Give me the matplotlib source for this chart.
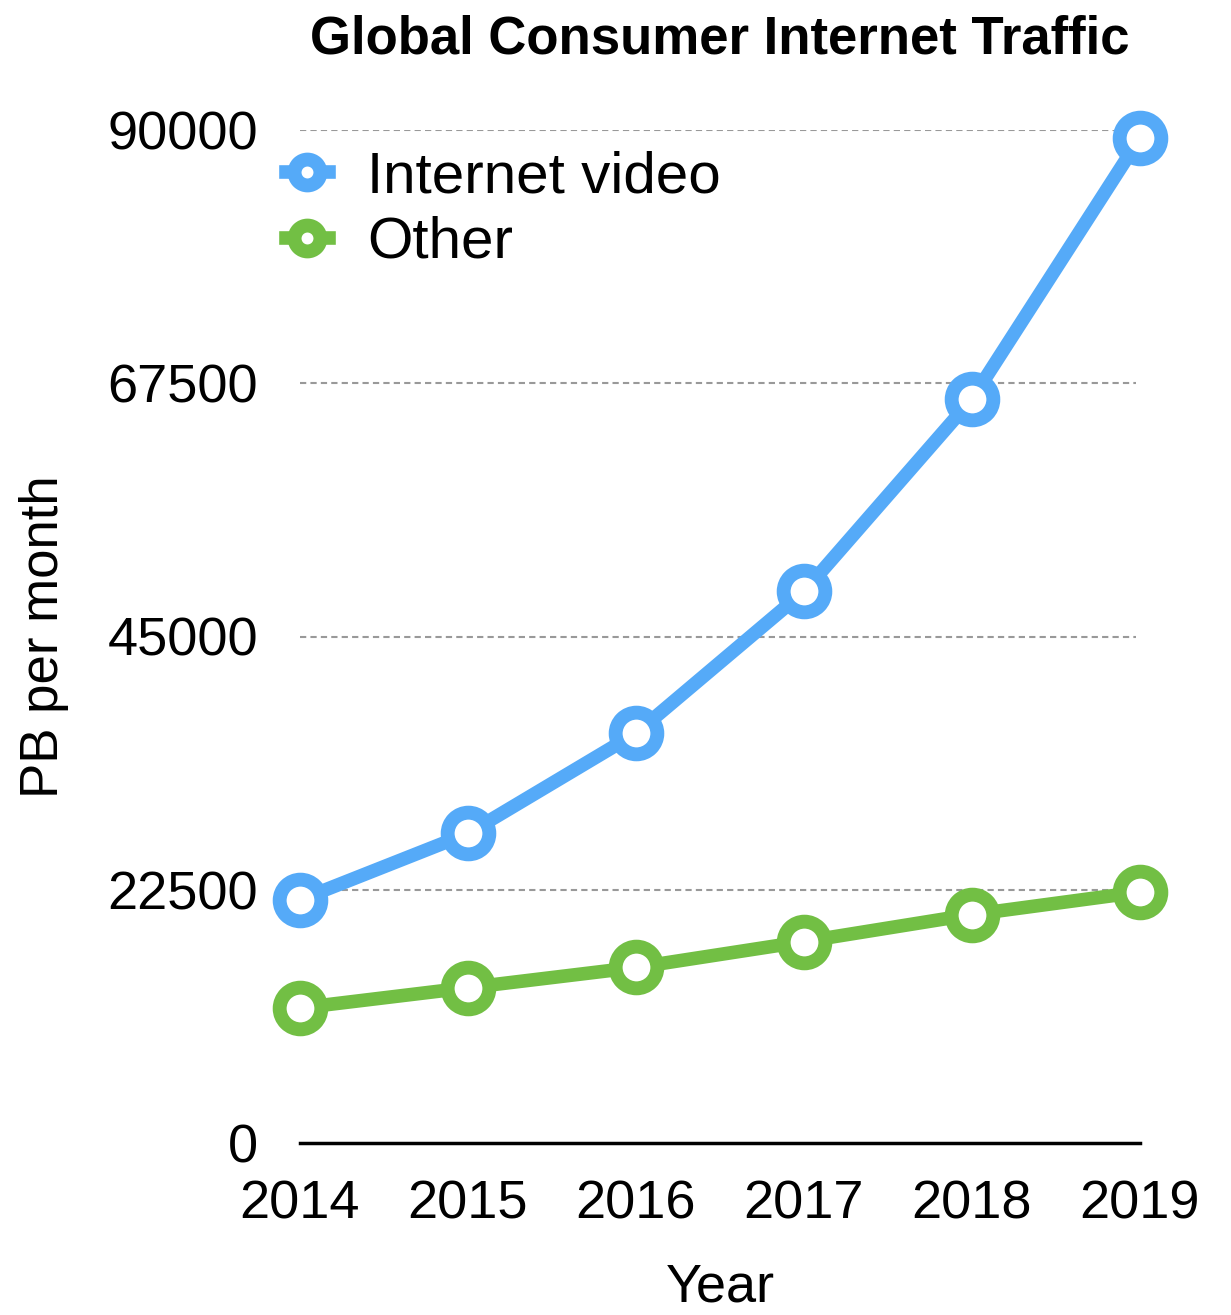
import matplotlib.pyplot as plt

years = [2014, 2015, 2016, 2017, 2018, 2019]
internet_video = [21600, 27500, 36400, 49000, 66100, 89300]
other = [12000, 13800, 15600, 17900, 20300, 22300]
y_ticks = [0, 22500, 45000, 67500, 90000]

plt.rcParams['font.family'] = ['Liberation Sans', 'DejaVu Sans']

blue = '#55aaf8'
green = '#72bf44'

fig = plt.figure(figsize=(12.31, 13.15), dpi=100)
ax = fig.add_axes([300 / 1231, 1 - 1143 / 1315, 840 / 1231, (1143 - 130) / 1315])

for values, color, label in [(internet_video, blue, 'Internet video'), (other, green, 'Other')]:
    ax.plot(years, values, color=color, linewidth=9.8, marker='o', markersize=30,
            markerfacecolor='white', markeredgecolor=color, markeredgewidth=10,
            label=label, clip_on=False, zorder=3)

ax.set_xlim(2014, 2019)
ax.set_ylim(0, 90000)
ax.set_xticks(years)
ax.set_yticks(y_ticks)
ax.set_yticklabels([str(v) for v in y_ticks])

for v in y_ticks[1:]:
    ax.axhline(v, xmax=0.995, color='#999999', linewidth=1.5, linestyle=(0, (3, 2)), zorder=1)

for side in ['left', 'right', 'top']:
    ax.spines[side].set_visible(False)
ax.spines['bottom'].set_linewidth(2.5)
ax.spines['bottom'].set_zorder(2)

ax.tick_params(axis='both', length=0, labelsize=39)
ax.tick_params(axis='x', pad=26)
ax.tick_params(axis='y', pad=30)

ax.set_title('Global Consumer Internet Traffic', fontsize=38, fontweight='bold', pad=55, x=0.5)
ax.set_xlabel('Year', fontsize=39, labelpad=24)
ax.set_ylabel('PB per month', fontsize=38, labelpad=28)

ax.legend(loc='upper left', bbox_to_anchor=(-0.045, 1.003), frameon=False, fontsize=42,
          markerscale=0.62, handlelength=0.75, handletextpad=0.65, labelspacing=0.2,
          borderaxespad=0)

fig.savefig('out.png', dpi=100)
